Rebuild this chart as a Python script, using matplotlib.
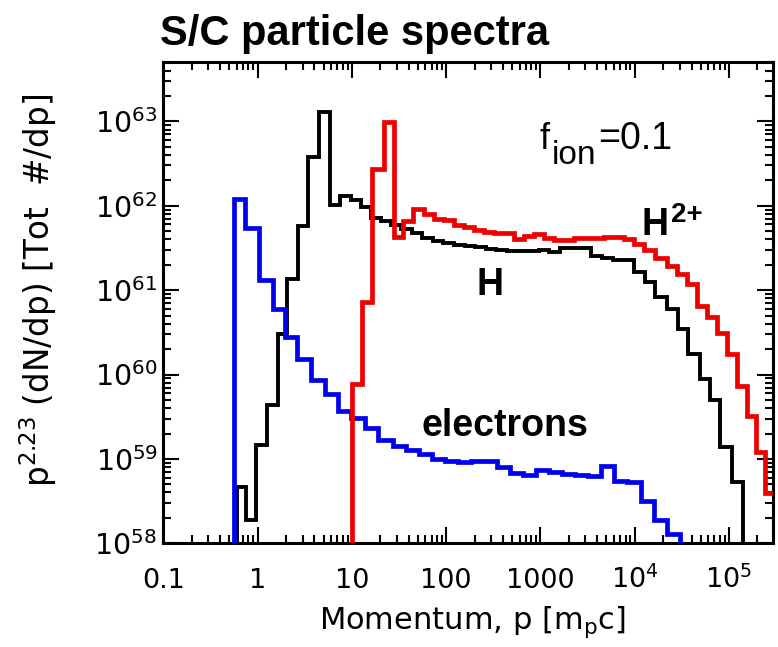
import numpy as np
import matplotlib
matplotlib.use("Agg")
import matplotlib.pyplot as plt
from matplotlib.ticker import LogLocator, NullFormatter, FixedLocator, FixedFormatter

plt.rcParams['font.family'] = ['DejaVu Sans']

# ---- spectra: log10 of bin edges in momentum [m_p c] and log10 of p^2.23 dN/dp per bin ----
h_log_p = [-0.219, -0.124, -0.013, 0.099, 0.220, 0.316, 0.427, 0.538, 0.654, 0.765,
           0.871, 0.988, 1.094, 1.200, 1.305, 1.411, 1.523, 1.636, 1.747, 1.859,
           1.971, 2.083, 2.196, 2.307, 2.419, 2.531, 2.644, 2.756, 2.867, 2.979,
           3.091, 3.204, 3.316, 3.427, 3.539, 3.651, 3.764, 3.875, 3.987, 4.111,
           4.217, 4.341, 4.463, 4.569, 4.693, 4.799, 4.905, 5.029, 5.145]
h_log_f = [58.667, 58.273, 59.161, 59.643, 60.485, 61.136, 61.756, 62.577, 63.110, 62.005,
           62.111, 62.063, 61.985, 61.850, 61.815, 61.768, 61.730, 61.682, 61.623, 61.584,
           61.560, 61.531, 61.525, 61.507, 61.489, 61.477, 61.460, 61.460, 61.460, 61.472,
           61.454, 61.495, 61.495, 61.495, 61.406, 61.383, 61.353, 61.353, 61.214, 61.096,
           60.918, 60.781, 60.544, 60.248, 59.951, 59.694, 59.141, 58.726]

h2_log_p = [1.006, 1.112, 1.217, 1.337, 1.446, 1.544, 1.644, 1.764, 1.870, 1.975,
            2.081, 2.187, 2.293, 2.399, 2.505, 2.611, 2.717, 2.822, 2.928, 3.034,
            3.140, 3.246, 3.352, 3.458, 3.563, 3.669, 3.775, 3.881, 3.987, 4.098,
            4.217, 4.340, 4.446, 4.552, 4.658, 4.764, 4.870, 4.976, 5.082, 5.187,
            5.286, 5.381, 5.487]
h2_log_f = [59.892, 60.859, 62.435, 62.994, 61.629, 61.815, 61.966, 61.902, 61.845, 61.827,
            61.768, 61.744, 61.714, 61.685, 61.679, 61.673, 61.610, 61.637, 61.669, 61.620,
            61.590, 61.596, 61.614, 61.620, 61.620, 61.626, 61.626, 61.602, 61.543, 61.472,
            61.383, 61.282, 61.187, 61.075, 60.808, 60.678, 60.494, 60.245, 59.860, 59.505,
            59.084, 58.598]

e_log_p = [-0.254, -0.129, 0.017, 0.159, 0.292, 0.423, 0.570, 0.712, 0.855, 0.988,
           1.136, 1.279, 1.438, 1.575, 1.713, 1.852, 1.989, 2.127, 2.264, 2.403,
           2.541, 2.678, 2.816, 2.954, 3.092, 3.230, 3.368, 3.505, 3.643, 3.783,
           3.920, 4.068, 4.199, 4.340, 4.481]
e_log_f = [62.084, 61.736, 61.116, 60.775, 60.441, 60.188, 59.931, 59.774, 59.572, 59.487,
           59.368, 59.224, 59.149, 59.102, 59.054, 59.001, 58.977, 58.966, 58.977, 58.977,
           58.900, 58.835, 58.806, 58.871, 58.845, 58.823, 58.812, 58.800, 58.912, 58.741,
           58.726, 58.498, 58.278, 58.107]

x_ticks = [0.1, 1, 10, 100, 1000, 1e4, 1e5]
x_tick_labels = ['0.1', '1', '10', '100', '1000', r'$\mathdefault{10^4}$', r'$\mathdefault{10^5}$']

W, H = 778, 647
fig = plt.figure(figsize=(W / 100, H / 100), dpi=100)


def fpos(x_px, y_px):
    return x_px / W, 1 - y_px / H


ax_left, ax_right, ax_top, ax_bot = 163.3, 773.3, 62.0, 543.3
ax = fig.add_axes([ax_left / W, 1 - ax_bot / H, (ax_right - ax_left) / W, (ax_bot - ax_top) / H])
ax.set_xscale('log')
ax.set_yscale('log')
ax.set_xlim(0.1, 10 ** 5.469)
ax.set_ylim(1e58, 10 ** 63.703)

base = 1e55
ax.stairs(10 ** np.array(h_log_f), 10 ** np.array(h_log_p), baseline=base,
          color='black', lw=2.8, joinstyle='miter', zorder=3)
ax.stairs(10 ** np.array(e_log_f), 10 ** np.array(e_log_p), baseline=base,
          color='#0000ee', lw=3.4, joinstyle='miter', zorder=4)
ax.stairs(10 ** np.array(h2_log_f), 10 ** np.array(h2_log_p), baseline=base,
          color='#ee0000', lw=3.4, joinstyle='miter', zorder=5)

# axes frame and ticks
for sp in ax.spines.values():
    sp.set_linewidth(2.2)
ax.xaxis.set_major_locator(FixedLocator(x_ticks))
ax.xaxis.set_major_formatter(FixedFormatter(x_tick_labels))
ax.xaxis.set_minor_locator(LogLocator(base=10, subs=np.arange(2, 10), numticks=30))
ax.xaxis.set_minor_formatter(NullFormatter())
ax.yaxis.set_major_locator(LogLocator(base=10, numticks=20))
ax.yaxis.set_minor_locator(LogLocator(base=10, subs=np.arange(2, 10), numticks=30))
ax.yaxis.set_minor_formatter(NullFormatter())
ax.tick_params(which='both', direction='in', top=True, right=True, width=1.5)
ax.tick_params(which='major', length=11.5)
ax.tick_params(which='minor', length=6)
ax.tick_params(axis='x', which='major', labelsize=19.5, pad=32)
ax.tick_params(axis='y', which='major', labelsize=20.5, pad=4.5)
for lbl in ax.get_xticklabels():
    lbl.set_verticalalignment('baseline')

# axis titles
fig.text(*fpos(472, 628.8), r'Momentum, p [m$_\mathdefault{p}$c]', fontsize=22,
         ha='center', va='baseline')
fig.text(*fpos(38.5, 290.5), r'p$^\mathdefault{2.23}$ (dN/dp) [Tot  #/dp]', fontsize=23.5,
         ha='center', va='center', rotation=90)

# title
fig.text(*fpos(160, 45), 'S/C particle spectra', fontsize=30, fontweight='bold',
         family='Liberation Sans', ha='left', va='baseline')

# curve annotations
bold = dict(family='Liberation Sans', fontweight='bold', ha='left', va='baseline')
fig.text(*fpos(476.7, 295), 'H', fontsize=27, **bold)
fig.text(*fpos(641.7, 235), 'H', fontsize=27, **bold)
fig.text(*fpos(670.5, 221.5), '2+', fontsize=20, **bold)
fig.text(*fpos(421.7, 435.5), 'electrons', fontsize=27, **bold)

reg = dict(family='Liberation Sans', ha='left', va='baseline')
fig.text(*fpos(539, 149), 'f', fontsize=26, **reg)
fig.text(*fpos(552, 164), 'ion', fontsize=24, **reg)
fig.text(*fpos(598, 149), '=0.1', fontsize=27, **reg)

fig.savefig('out.png', dpi=100)
